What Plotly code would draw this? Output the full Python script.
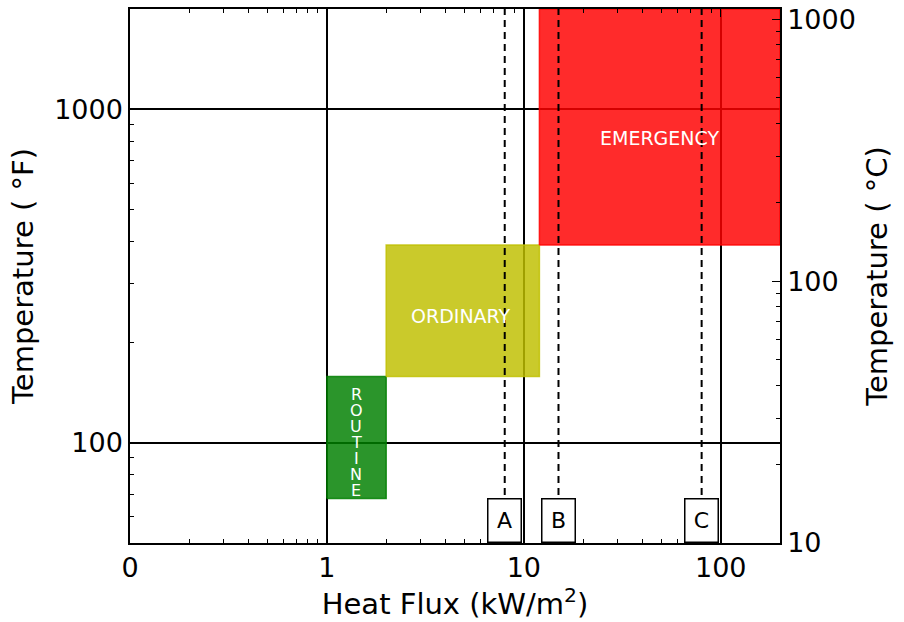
import numpy as np
import plotly.graph_objects as go

# ---------------- data ----------------
zone_names = ["ROUTINE", "ORDINARY", "EMERGENCY"]
zone_flux_lo = [1, 2, 12]
zone_flux_hi = [2, 12, 200]
zone_temp_lo = [68, 158, 392]      # deg F
zone_temp_hi = [158, 392, 2000]    # deg F
zone_colors = ["rgba(0,128,0,0.83)", "rgba(191,191,0,0.83)", "rgba(255,0,0,0.83)"]
label_flux = [1.41, 4.8, 49]
label_temp = [100, 240, 820]

marker_names = ["A", "B", "C"]
marker_flux = [8, 15, 80]

x_range = [0.1, 200]
yF_range = [50, 2000]
yC_range = [10, 1093]
x_tickvals = [0.1, 1, 10, 100]
x_ticktext = ["0", "1", "10", "100"]
yF_tickvals = [100, 1000]
yC_tickvals = [10, 100, 1000]

def minor_vals(lo, hi):
    out = []
    for d in range(-2, 5):
        for m in range(2, 10):
            v = m * 10 ** d
            if lo < v < hi:
                out.append(v)
    return out

FONT = "DejaVu Sans"
fig = go.Figure()

# zones
for lo, hi, tlo, thi, col in zip(zone_flux_lo, zone_flux_hi, zone_temp_lo, zone_temp_hi, zone_colors):
    fig.add_trace(go.Scatter(
        x=[lo, hi, hi, lo, lo], y=[tlo, tlo, thi, thi, tlo],
        mode="lines", fill="toself", fillcolor=col,
        line=dict(color=col, width=1.5), hoverinfo="skip", showlegend=False))

# dashed markers
for f in marker_flux:
    fig.add_trace(go.Scatter(
        x=[f, f], y=yF_range, mode="lines",
        line=dict(color="black", width=2, dash="7px,5px"),
        hoverinfo="skip", showlegend=False))

# invisible trace so that the right (deg C) axis is drawn
fig.add_trace(go.Scatter(
    x=[x_range[0], x_range[0]], y=yC_range, yaxis="y2", mode="lines",
    line=dict(width=0, color="rgba(0,0,0,0)"), hoverinfo="skip", showlegend=False))

# zone labels
for name, fx, ty in zip(zone_names, label_flux, label_temp):
    if name == "ROUTINE":
        n = len(name)
        for i, ch in enumerate(name):
            fig.add_annotation(x=np.log10(fx), y=np.log10(ty), xref="x", yref="y",
                               text=ch, showarrow=False,
                               yshift=((n - 1) / 2 - i) * 16,
                               font=dict(family=FONT, size=16, color="white"))
    else:
        fig.add_annotation(x=np.log10(fx), y=np.log10(ty), xref="x", yref="y",
                           text=name, showarrow=False,
                           font=dict(family=FONT, size=19, color="white"))

# boxed marker labels
for name, f in zip(marker_names, marker_flux):
    fig.add_annotation(x=np.log10(f), y=0, xref="x", yref="paper",
                       yanchor="bottom", text=name, showarrow=False,
                       width=30, height=40, borderpad=1,
                       bgcolor="white", bordercolor="black", borderwidth=1.5,
                       font=dict(family=FONT, size=22, color="black"))

axis_common = dict(type="log", showline=True, linecolor="black", linewidth=1.5,
                   ticks="inside", ticklen=8, tickcolor="black", tickwidth=1,
                   tickfont=dict(family=FONT, size=27, color="black"),
                   zeroline=False, automargin=False)

fig.update_layout(
    width=904, height=622,
    margin=dict(l=130, r=124, t=9, b=79),
    paper_bgcolor="white", plot_bgcolor="white",
    font=dict(family=FONT, color="black"),
    xaxis=dict(**axis_common,
               range=[np.log10(v) for v in x_range],
               tickmode="array", tickvals=x_tickvals, ticktext=x_ticktext,
               mirror="ticks",
               showgrid=True, gridcolor="black", gridwidth=1.5,
               minor=dict(tickmode="array", tickvals=minor_vals(*x_range),
                          ticks="inside", ticklen=4, tickcolor="black", showgrid=False),
               title=dict(text="Heat Flux (kW/m<sup>2</sup>)",
                          font=dict(family=FONT, size=29), standoff=6)),
    yaxis=dict(**axis_common,
               range=[np.log10(v) for v in yF_range],
               tickmode="array", tickvals=yF_tickvals, ticktext=[str(v) for v in yF_tickvals],
               showgrid=True, gridcolor="black", gridwidth=1.5,
               minor=dict(tickmode="array", tickvals=minor_vals(*yF_range),
                          ticks="inside", ticklen=4, tickcolor="black", showgrid=False),
               title=dict(text="Temperature ( °F)",
                          font=dict(family=FONT, size=29), standoff=12)),
    yaxis2=dict(**axis_common,
                overlaying="y", side="right",
                range=[np.log10(v) for v in yC_range],
                tickmode="array", tickvals=yC_tickvals, ticktext=[str(v) for v in yC_tickvals],
                showgrid=False,
                minor=dict(tickmode="array", tickvals=minor_vals(*yC_range),
                           ticks="inside", ticklen=4, tickcolor="black", showgrid=False),
                title=dict(text="Temperature ( °C)",
                           font=dict(family=FONT, size=29), standoff=12)),
    showlegend=False,
)

fig.write_html("out.html")
